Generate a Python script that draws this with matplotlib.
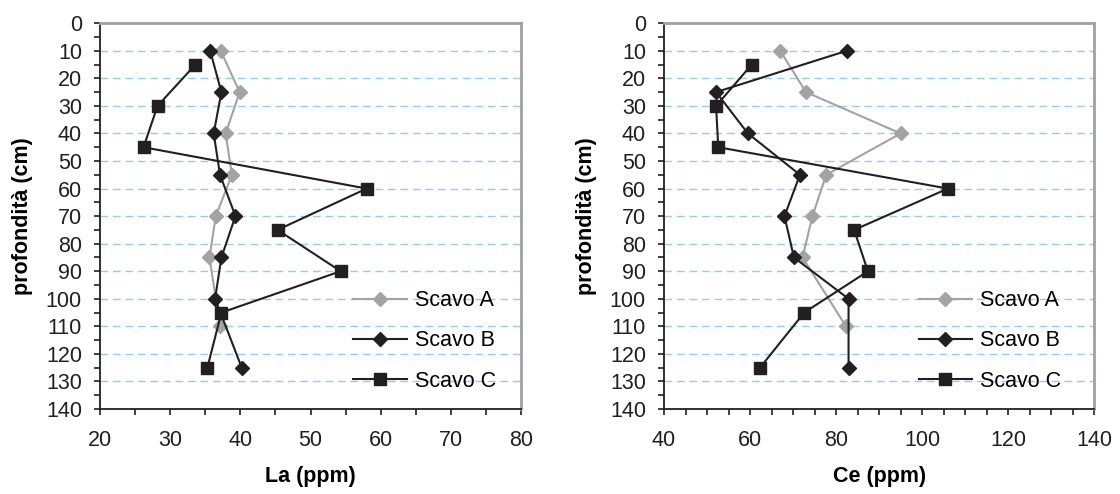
import numpy as np
import matplotlib.pyplot as plt
from matplotlib.ticker import MultipleLocator

plt.rcParams['font.family'] = ['Liberation Sans', 'DejaVu Sans']

# depths (cm)
depth_a = [10, 25, 40, 55, 70, 85, 110]
depth_b = [10, 25, 40, 55, 70, 85, 100, 125]
depth_c = [15, 30, 45, 60, 75, 90, 105, 125]

# La (ppm)
la_a = [37.2, 39.9, 37.9, 38.8, 36.5, 35.6, 37.1]
la_b = [35.7, 37.3, 36.2, 37.1, 39.3, 37.3, 36.4, 40.2]
la_c = [33.6, 28.2, 26.2, 58.0, 45.3, 54.3, 37.3, 35.3]

# Ce (ppm)
ce_a = [67.0, 73.0, 95.0, 77.7, 74.5, 72.2, 82.3]
ce_b = [82.5, 52.1, 59.5, 71.6, 68.0, 70.2, 82.9, 82.9]
ce_c = [60.4, 52.1, 52.6, 106.0, 84.2, 87.4, 72.6, 62.3]

series_labels = ['Scavo A', 'Scavo B', 'Scavo C']

GRAY = '#a3a3a3'
BLACK = '#231f20'
GRID = '#93cde9'


def draw_panel(ax, va, vb, vc, xlim, xmajor, xlabel, leg_x):
    ax.plot(va, depth_a, color=GRAY, lw=1.5, marker='D', ms=6.8,
            mfc=GRAY, mec=GRAY, label=series_labels[0], zorder=3)
    ax.plot(vb, depth_b, color=BLACK, lw=1.5, marker='D', ms=6.8,
            mfc=BLACK, mec=BLACK, label=series_labels[1], zorder=4)
    ax.plot(vc, depth_c, color=BLACK, lw=1.5, marker='s', ms=9,
            mfc=BLACK, mec=BLACK, label=series_labels[2], zorder=5)

    ax.set_xlim(*xlim)
    ax.set_ylim(140, 0)
    ax.xaxis.set_major_locator(MultipleLocator(xmajor))
    ax.xaxis.set_minor_locator(MultipleLocator(5))
    ax.yaxis.set_major_locator(MultipleLocator(10))
    ax.yaxis.set_minor_locator(MultipleLocator(5))
    ax.tick_params(which='both', direction='out', length=4, width=1.2,
                   color=BLACK, labelsize=15.5, labelcolor=BLACK)
    ax.tick_params(axis='x', pad=11)
    ax.tick_params(axis='y', pad=9)

    for yy in range(10, 140, 10):
        ax.axhline(yy, color=GRID, lw=1, ls=(0, (5.5, 3.5)), zorder=1)

    for side in ['left', 'bottom']:
        ax.spines[side].set_color(BLACK)
        ax.spines[side].set_linewidth(1.3)
    for side in ['top', 'right']:
        ax.spines[side].set_color('#a0a0a0')
        ax.spines[side].set_linewidth(2)

    ax.set_xlabel(xlabel, fontsize=15.5, fontweight='bold', labelpad=11)
    ax.set_ylabel('profondità (cm)', fontsize=15.5, fontweight='bold', labelpad=9)
    ax.legend(loc='lower right', bbox_to_anchor=(leg_x, 0.0), frameon=False,
              fontsize=15.5, handlelength=2.5, handletextpad=0.35,
              labelspacing=0.9, borderaxespad=0.4)


fig = plt.figure(figsize=(11.2, 4.94), dpi=100)
ax1 = fig.add_axes([0.0893, 0.172, 0.3759, 0.781])
ax2 = fig.add_axes([0.5929, 0.172, 0.384, 0.781])

draw_panel(ax1, la_a, la_b, la_c, (20, 80), 10, 'La (ppm)', 0.981)
draw_panel(ax2, ce_a, ce_b, ce_c, (40, 140), 20, 'Ce (ppm)', 0.963)

fig.savefig('out.png', dpi=100)
